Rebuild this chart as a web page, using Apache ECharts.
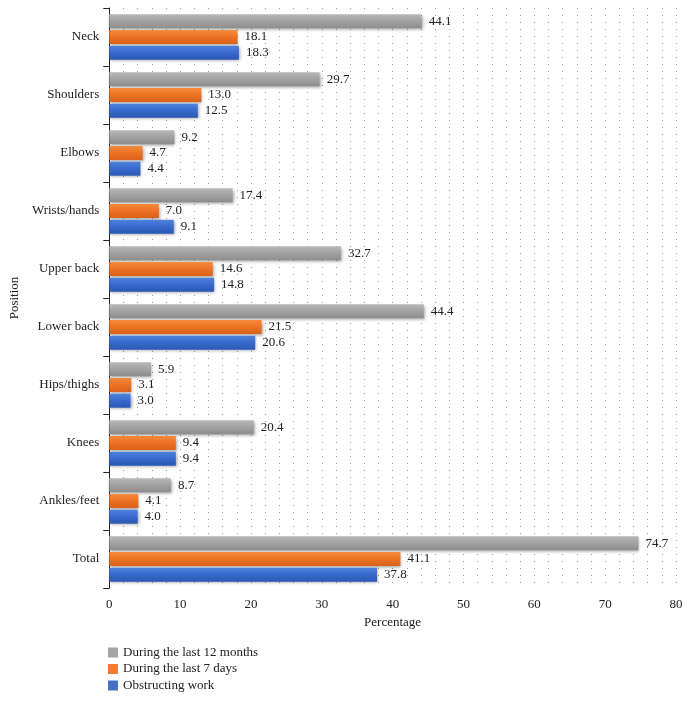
<!DOCTYPE html>
<html><head><meta charset="utf-8">
<script src="https://cdn.jsdelivr.net/npm/echarts@6/dist/echarts.min.js"></script>
<style>html,body{margin:0;padding:0;background:#fff}#c{width:687px;height:701px}</style>
</head><body><div id="c"></div>
<script>
const categories = ['Neck','Shoulders','Elbows','Wrists/hands','Upper back','Lower back','Hips/thighs','Knees','Ankles/feet','Total'];
const last12Months = [44.1, 29.7, 9.2, 17.4, 32.7, 44.4, 5.9, 20.4, 8.7, 74.7];
const last7Days = [18.1, 13.0, 4.7, 7.0, 14.6, 21.5, 3.1, 9.4, 4.1, 41.1];
const obstructing = [18.3, 12.5, 4.4, 9.1, 14.8, 20.6, 3.0, 9.4, 4.0, 37.8];
const seriesNames = ['During the last 12 months','During the last 7 days','Obstructing work'];
const xTicks = [0,10,20,30,40,50,60,70,80];

const FONT = '"Liberation Serif", "DejaVu Serif", serif';
function grad(top, mid, bot){
  return new echarts.graphic.LinearGradient(0,0,0,1,[
    {offset:0,color:top},{offset:0.45,color:mid},{offset:1,color:bot}]);
}
const styles = [
  {color: grad('#b8b8b8','#a3a3a3','#8c8c8c'), legend:'#a5a5a5'},
  {color: grad('#f58a3c','#ef7424','#d9621a'), legend:'#ed7d31'},
  {color: grad('#4f81dc','#3a6bcf','#2c57b3'), legend:'#4472c4'}
];
const data = [last12Months, last7Days, obstructing];

const chart = echarts.init(document.getElementById('c'), null, {renderer:'canvas'});
chart.setOption({
  animation:false,
  textStyle:{fontFamily:FONT},
  legend:{
    orient:'vertical', left:108, top:646, height:60, padding:0, icon:'rect',
    itemWidth:10, itemHeight:10, itemGap:3.5,
    textStyle:{fontFamily:FONT, fontSize:13, color:'#222'},
    data: seriesNames.map((n,i)=>({name:n, itemStyle:{color:styles[i].legend}}))
  },
  grid:{left:108, right:11, top:8, bottom:113, containLabel:false},
  xAxis:{
    type:'value', min:0, max:80, interval:2,
    name:'Percentage', nameLocation:'middle', nameGap:28,
    nameTextStyle:{fontFamily:FONT, fontSize:13, color:'#222'},
    axisLine:{show:false}, axisTick:{show:false},
    axisLabel:{fontFamily:FONT, fontSize:13, color:'#222', margin:10,
      formatter: v => xTicks.includes(v) ? String(v) : ''},
    splitLine:{show:true, lineStyle:{color:'#999', width:1, type:[1,6]}}
  },
  yAxis:{
    type:'category', data:categories, inverse:true,
    name:'Position', nameLocation:'middle', nameGap:88, nameRotate:90,
    nameTextStyle:{fontFamily:FONT, fontSize:13, color:'#222'},
    axisLine:{show:true, lineStyle:{color:'#222', width:1}},
    axisTick:{show:true, length:6, lineStyle:{color:'#222'}},
    axisLabel:{fontFamily:FONT, fontSize:13, color:'#222', margin:10},
    splitLine:{show:false}
  },
  series: seriesNames.map((n,i)=>({
    name:n, type:'bar', data:data[i], barWidth:14, barGap:'12%',
    itemStyle:{color:styles[i].color, shadowBlur:3, shadowColor:'rgba(0,0,0,0.35)', shadowOffsetY:1.5, shadowOffsetX:1},
    label:{show:true, position:'right', distance:7, fontFamily:FONT, fontSize:13, color:'#222',
      formatter: p => p.value.toFixed(1)}
  }))
});
</script></body></html>
